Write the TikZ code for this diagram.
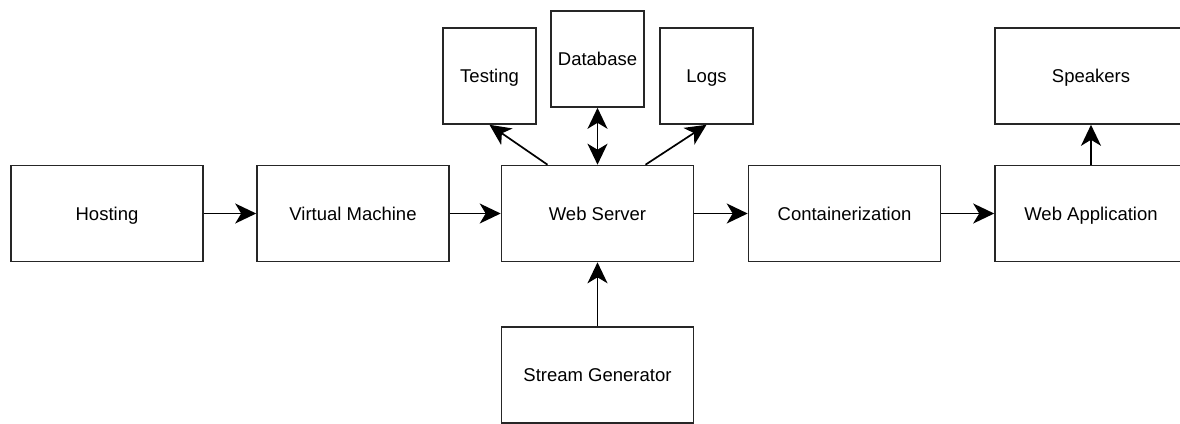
\documentclass[tikz,border=0pt]{standalone}
\usepackage{fontspec}
\setmainfont{Liberation Sans}
\usetikzlibrary{arrows.meta,calc}
\begin{document}
\begin{tikzpicture}[x=1pt,y=-1pt,
  box/.style={draw=black!85, line width=1.6pt, fill=white, rectangle, inner sep=0pt,
    text height=13.3pt, text depth=0pt,
    font=\fontsize{18.5}{22}\selectfont},
  wide/.style={box, minimum width=192pt, minimum height=96pt},
  narrow/.style={box, minimum width=93pt, minimum height=96pt},
  conn/.style={line width=1.7pt, -{Stealth[length=21pt,width=20pt,inset=6pt]}},
  bconn/.style={line width=1.7pt, {Stealth[length=21pt,width=20pt,inset=6pt]}-{Stealth[length=21pt,width=20pt,inset=6pt]}}]
\useasboundingbox (0,0) rectangle (1180,423);
\node[wide] (hosting) at (107,213.5) {Hosting};
\node[wide] (vm) at (353,213.5) {Virtual Machine};
\node[wide] (ws) at (597.5,213.5) {Web Server};
\node[wide] (cont) at (844.5,213.5) {Containerization};
\node[wide] (webapp) at (1091,213.5) {Web Application};
\node[wide] (speakers) at (1091,76) {Speakers};
\node[narrow] (testing) at (489.5,76) {Testing};
\node[narrow] (database) at (597.5,59) {Database};
\node[narrow] (logs) at (706.5,76) {Logs};
\node[wide] (stream) at (597.5,375) {Stream Generator};
\draw[conn] (hosting) -- (vm);
\draw[conn] (vm) -- (ws);
\draw[conn] (ws) -- (cont);
\draw[conn] (cont) -- (webapp);
\draw[conn] (webapp.north) -- (speakers.south);
\draw[conn] ([xshift=-50pt]ws.north) -- (testing.south);
\draw[conn] ([xshift=48pt]ws.north) -- (logs.south);
\draw[bconn] (ws.north) -- (database.south);
\draw[conn] (stream.north) -- (ws.south);
\end{tikzpicture}
\end{document}
